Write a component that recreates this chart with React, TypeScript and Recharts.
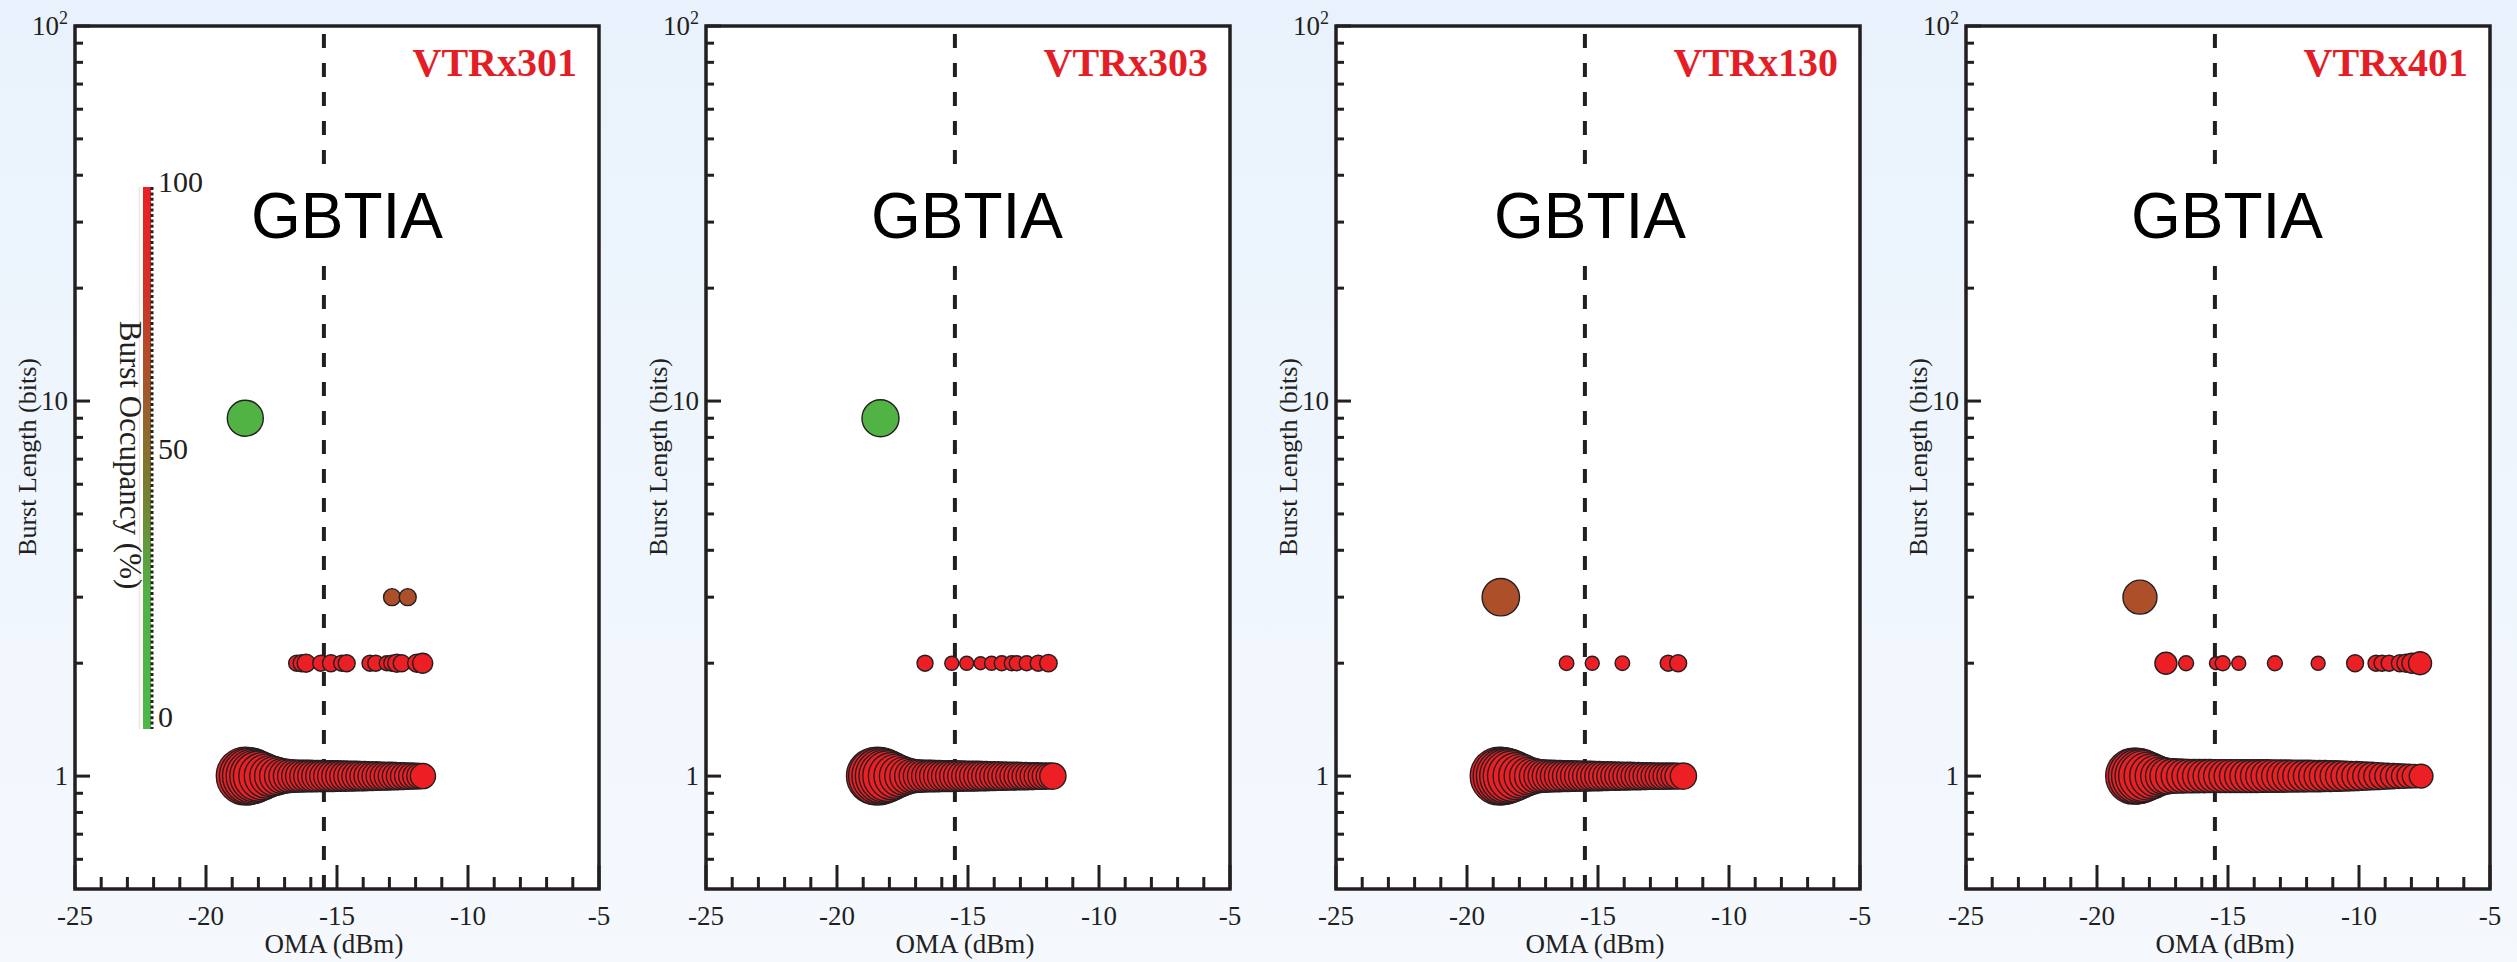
import React from "react";
import {
  ScatterChart,
  Scatter,
  XAxis,
  YAxis,
  ZAxis,
  Cell,
  CartesianGrid,
  ReferenceLine,
  ReferenceArea,
} from "recharts";

// each burst: [OMA (dBm), number of error bursts seen]
const vtrx301Len1: [number, number][] = [
  [-18.5, 841], [-18.4, 812], [-18.3, 784], [-18.2, 729], [-18.1, 676], [-18.0, 625],
  [-17.85, 552], [-17.7, 484], [-17.55, 420], [-17.4, 380], [-17.25, 342], [-17.1, 306],
  [-16.95, 289], [-16.8, 272], [-16.65, 262], [-16.5, 256], [-16.35, 256], [-16.2, 250],
  [-16.05, 250], [-15.9, 246], [-15.75, 243], [-15.6, 243], [-15.45, 240], [-15.3, 240],
  [-15.15, 237], [-15.0, 234], [-14.85, 231], [-14.7, 228], [-14.55, 225], [-14.4, 222],
  [-14.25, 219], [-14.1, 216], [-13.95, 213], [-13.8, 210], [-13.65, 207], [-13.5, 204],
  [-13.35, 200], [-13.2, 196], [-13.05, 193], [-12.9, 190], [-12.75, 186], [-12.6, 182],
  [-12.45, 178], [-12.3, 174], [-12.15, 170], [-12.0, 166], [-11.85, 162], [-11.72, 158],
];
const vtrx301Len2: [number, number][] = [
  [-16.54, 64], [-16.35, 72], [-16.18, 81], [-15.62, 64], [-15.23, 72], [-14.82, 64],
  [-14.63, 72], [-13.74, 64], [-13.52, 64], [-13.1, 56], [-12.91, 64], [-12.72, 81],
  [-12.53, 72], [-11.96, 81], [-11.73, 100],
];
const vtrx301Len3: [number, number][] = [[-12.9, 72], [-12.3, 72]];
const vtrx301Len9: [number, number][] = [[-18.5, 324]];

const vtrx303Len1: [number, number][] = [
  [-18.55, 812], [-18.45, 841], [-18.35, 800], [-18.25, 756], [-18.15, 700], [-18.05, 640],
  [-17.9, 560], [-17.75, 484], [-17.6, 420], [-17.45, 361], [-17.3, 324], [-17.15, 289],
  [-17.0, 272], [-16.85, 262], [-16.7, 256], [-16.55, 250], [-16.4, 250], [-16.25, 246],
  [-16.1, 243], [-15.95, 240], [-15.8, 240], [-15.65, 237], [-15.5, 234], [-15.35, 231],
  [-15.2, 228], [-15.05, 225], [-14.9, 225], [-14.75, 222], [-14.6, 219], [-14.45, 216],
  [-14.3, 213], [-14.15, 210], [-14.0, 207], [-13.85, 204], [-13.7, 202], [-13.55, 199],
  [-13.4, 196], [-13.25, 193], [-13.1, 190], [-12.95, 188], [-12.8, 185], [-12.65, 182],
  [-12.5, 180], [-12.35, 177], [-12.2, 174], [-12.05, 172], [-11.9, 170], [-11.76, 172],
];
const vtrx303Len2: [number, number][] = [
  [-16.64, 64], [-15.62, 49], [-15.05, 49], [-14.52, 42], [-14.1, 49], [-13.71, 56],
  [-13.33, 56], [-13.14, 56], [-12.76, 56], [-12.32, 64], [-11.93, 76],
];
const vtrx303Len9: [number, number][] = [[-18.34, 342]];

const vtrx130Len1: [number, number][] = [
  [-18.77, 841], [-18.67, 820], [-18.57, 790], [-18.47, 750], [-18.37, 700], [-18.25, 640],
  [-18.1, 560], [-17.95, 484], [-17.8, 420], [-17.65, 361], [-17.5, 324], [-17.35, 289],
  [-17.2, 272], [-17.05, 262], [-16.9, 256], [-16.75, 250], [-16.6, 246], [-16.45, 243],
  [-16.3, 240], [-16.15, 237], [-16.0, 234], [-15.85, 231], [-15.7, 228], [-15.55, 225],
  [-15.4, 222], [-15.25, 219], [-15.1, 216], [-14.95, 213], [-14.8, 210], [-14.65, 207],
  [-14.5, 204], [-14.35, 202], [-14.2, 199], [-14.05, 196], [-13.9, 193], [-13.75, 190],
  [-13.6, 188], [-13.45, 185], [-13.3, 182], [-13.15, 180], [-13.0, 177], [-12.85, 176],
  [-12.7, 174], [-12.55, 173], [-12.4, 172], [-12.25, 171], [-12.1, 170], [-11.95, 169],
  [-11.74, 172],
];
const vtrx130Len2: [number, number][] = [
  [-16.2, 53], [-15.22, 49], [-14.07, 53], [-12.32, 64], [-11.94, 72],
];
const vtrx130Len3: [number, number][] = [[-18.71, 350]];

const vtrx401Len1: [number, number][] = [
  [-18.6, 784], [-18.5, 780], [-18.4, 750], [-18.3, 700], [-18.2, 650], [-18.05, 576],
  [-17.9, 500], [-17.75, 430], [-17.6, 370], [-17.45, 335], [-17.3, 315], [-17.1, 300],
  [-16.9, 290], [-16.7, 284], [-16.5, 280], [-16.3, 278], [-16.1, 276], [-15.9, 275],
  [-15.7, 274], [-15.5, 273], [-15.3, 272], [-15.1, 272], [-14.9, 271], [-14.7, 270],
  [-14.5, 270], [-14.3, 269], [-14.1, 268], [-13.9, 267], [-13.7, 266], [-13.5, 265],
  [-13.3, 264], [-13.1, 262], [-12.9, 260], [-12.7, 258], [-12.5, 256], [-12.3, 254],
  [-12.1, 252], [-11.9, 250], [-11.7, 248], [-11.5, 245], [-11.3, 242], [-11.1, 238],
  [-10.9, 234], [-10.7, 229], [-10.5, 224], [-10.3, 218], [-10.1, 212], [-9.9, 205],
  [-9.7, 198], [-9.5, 190], [-9.3, 182], [-9.1, 175], [-8.9, 167], [-8.7, 160],
  [-8.5, 153], [-8.3, 146], [-8.1, 140], [-7.9, 138], [-7.63, 140],
];
const vtrx401Len2: [number, number][] = [
  [-17.37, 121], [-16.6, 56], [-15.46, 42], [-15.2, 56], [-14.59, 49], [-13.21, 56],
  [-11.56, 49], [-10.15, 72], [-9.35, 64], [-9.12, 64], [-8.85, 64], [-8.44, 72],
  [-8.21, 81], [-7.98, 100], [-7.67, 132],
];
const vtrx401Len3: [number, number][] = [[-18.36, 289]];

// occupancy (%) of the burst, by burst length in bits
const occupancyByLength: Record<number, number> = { 1: 100, 2: 100, 3: 67, 9: 22 };

const xTicks = [-25, -24, -23, -22, -21, -20, -19, -18, -17, -16, -15, -14, -13, -12, -11, -10, -9, -8, -7, -6, -5];
const xMajor = [-25, -20, -15, -10, -5];
const yTicks = [0.6, 0.7, 0.8, 0.9, 1, 2, 3, 4, 5, 6, 7, 8, 9, 10, 20, 30, 40, 50, 60, 70, 80, 90, 100];
const yMajor = [1, 10, 100];
const sensitivity = -15.5;

const panels = [
  { name: "VTRx301", left: 0, textX: 176, colorBar: true, bursts: [[1, vtrx301Len1], [2, vtrx301Len2], [3, vtrx301Len3], [9, vtrx301Len9]] },
  { name: "VTRx303", left: 631, textX: 165, colorBar: false, bursts: [[1, vtrx303Len1], [2, vtrx303Len2], [9, vtrx303Len9]] },
  { name: "VTRx130", left: 1261, textX: 158, colorBar: false, bursts: [[1, vtrx130Len1], [2, vtrx130Len2], [3, vtrx130Len3]] },
  { name: "VTRx401", left: 1891, textX: 165, colorBar: false, bursts: [[1, vtrx401Len1], [2, vtrx401Len2], [3, vtrx401Len3]] },
] as { name: string; left: number; textX: number; colorBar: boolean; bursts: [number, [number, number][]][] }[];

const SERIF = "'Liberation Serif', 'Times New Roman', serif";
const SANS = "'Liberation Sans', Arial, sans-serif";
const INK = "#231f20";

// colour scale for occupancy: green -> brown -> red
const occStops: [number, number[]][] = [
  [0, [76, 184, 72]],
  [25, [80, 178, 68]],
  [45, [122, 124, 48]],
  [62, [160, 90, 42]],
  [82, [212, 48, 38]],
  [100, [236, 31, 36]],
];

function occColor(o: number) {
  for (let i = 1; i < occStops.length; i++) {
    const [o1, c1] = occStops[i];
    const [o0, c0] = occStops[i - 1];
    if (o <= o1) {
      const t = (o - o0) / (o1 - o0);
      const c = c0.map((v, k) => Math.round(v + (c1[k] - v) * t));
      return `rgb(${c[0]},${c[1]},${c[2]})`;
    }
  }
  return "rgb(236,31,36)";
}

function XTick(props: any) {
  const { x, y, payload } = props;
  const major = xMajor.includes(payload.value);
  return (
    <g>
      <line x1={x} x2={x} y1={y} y2={y - (major ? 24 : 12)} stroke={INK} strokeWidth={3} />
      {major && (
        <text x={x} y={y + 36} textAnchor="middle" fontFamily={SERIF} fontSize={27} fill={INK}>
          {payload.value}
        </text>
      )}
    </g>
  );
}

function YTick(props: any) {
  const { x, y, payload } = props;
  const v = payload.value;
  const major = yMajor.includes(v);
  return (
    <g>
      <line x1={x} x2={x + (major ? 15 : 8)} y1={y} y2={y} stroke={INK} strokeWidth={3} />
      {major && (
        <text x={x - 7} y={y + 9} textAnchor="end" fontFamily={SERIF} fontSize={27} fill={INK}>
          {v === 100 ? (
            <>
              10<tspan dy={-11} fontSize={18}>2</tspan>
            </>
          ) : (
            v
          )}
        </text>
      )}
    </g>
  );
}

const renderBubble = (props: any) => {
  const { cx, cy, fill } = props;
  let r = 5;
  if (Number.isFinite(props.size)) r = Math.sqrt(props.size / Math.PI);
  else if (Number.isFinite(props.width)) r = props.width / 2;
  return <circle cx={cx} cy={cy} r={r} fill={fill} stroke={INK} strokeWidth={1.4} />;
};

function ColorBar() {
  return (
    <g>
      <defs>
        <linearGradient id="occGrad" x1="0" y1="1" x2="0" y2="0">
          {occStops.map(([o, c]) => (
            <stop key={o} offset={`${o}%`} stopColor={`rgb(${c[0]},${c[1]},${c[2]})`} />
          ))}
        </linearGradient>
      </defs>
      <line x1={139.5} x2={139.5} y1={187} y2={729} stroke="#f1e4e2" strokeWidth={1.5} />
      <rect x={143} y={187} width={8} height={542} fill="url(#occGrad)" />
      <line x1={152} x2={152} y1={187} y2={729} stroke={INK} strokeWidth={3} strokeDasharray="3 2.4" />
      <text x={158} y={192} fontFamily={SERIF} fontSize={30} fill={INK}>100</text>
      <text x={158} y={459} fontFamily={SERIF} fontSize={30} fill={INK}>50</text>
      <text x={158} y={727} fontFamily={SERIF} fontSize={30} fill={INK}>0</text>
      <text transform="translate(120,455) rotate(90)" textAnchor="middle" fontFamily={SERIF} fontSize={31} fill={INK}>
        Burst Occupancy (%)
      </text>
    </g>
  );
}

function Panel({ panel }: { panel: (typeof panels)[number] }) {
  const points = panel.bursts.flatMap(([len, arr]) =>
    arr.map(([oma, n]) => ({ oma, len, n, occ: occupancyByLength[len] }))
  );
  const plotLeft = 75;
  return (
    <div style={{ position: "absolute", left: panel.left, top: 0, width: 626, height: 962 }}>
      <ScatterChart width={626} height={962} margin={{ top: 26, right: 27, bottom: 0, left: 0 }}>
        <CartesianGrid fill="#ffffff" horizontal={false} vertical={false} />
        <XAxis
          type="number"
          dataKey="oma"
          domain={[-25, -5]}
          ticks={xTicks}
          interval={0}
          height={73}
          tickSize={0}
          tickMargin={0}
          axisLine={false}
          tickLine={false}
          tick={(p: any) => <XTick {...p} />}
          allowDataOverflow
        />
        <YAxis
          type="number"
          dataKey="len"
          scale="log"
          domain={[0.5, 100]}
          ticks={yTicks}
          interval={0}
          width={75}
          tickSize={0}
          tickMargin={0}
          axisLine={false}
          tickLine={false}
          tick={(p: any) => <YTick {...p} />}
          allowDataOverflow
        />
        <ZAxis type="number" dataKey="n" domain={[0, 1000]} range={[0, 1000 * Math.PI]} />
        <Scatter data={points} isAnimationActive={false} shape={renderBubble}>
          {points.map((p, i) => (
            <Cell key={i} fill={occColor(p.occ)} />
          ))}
        </Scatter>
        <ReferenceLine x={sensitivity} stroke={INK} strokeWidth={4} strokeDasharray="14 15" />
        <ReferenceArea x1={-25} x2={-5} y1={0.5} y2={100} fill="none" stroke={INK} strokeWidth={3.5} />
      </ScatterChart>
      <svg
        width={626}
        height={962}
        style={{ position: "absolute", left: 0, top: 0, pointerEvents: "none" }}
      >
        <text transform="translate(36,457) rotate(-90)" textAnchor="middle" fontFamily={SERIF} fontSize={26} fill={INK}>
          Burst Length (bits)
        </text>
        <text x={plotLeft + 259} y={953} textAnchor="middle" fontFamily={SERIF} fontSize={27} fill={INK}>
          OMA (dBm)
        </text>
        <text x={577} y={76} textAnchor="end" fontFamily={SERIF} fontWeight="bold" fontSize={40} fill="#e31e26">
          {panel.name}
        </text>
        <rect x={plotLeft + panel.textX - 4} y={168} width={198} height={94} fill="#ffffff" />
        <text x={plotLeft + panel.textX} y={238} fontFamily={SANS} fontSize={64} fill="#000">
          GBTIA
        </text>
        {panel.colorBar && <ColorBar />}
      </svg>
    </div>
  );
}

export default function App() {
  return (
    <div
      style={{
        position: "absolute",
        left: 0,
        top: 0,
        width: 2517,
        height: 962,
        overflow: "hidden",
        background: "linear-gradient(180deg, #e9f2fc 0%, #f5f9fe 100%)",
      }}
    >
      {panels.map((p) => (
        <Panel key={p.name} panel={p} />
      ))}
    </div>
  );
}
